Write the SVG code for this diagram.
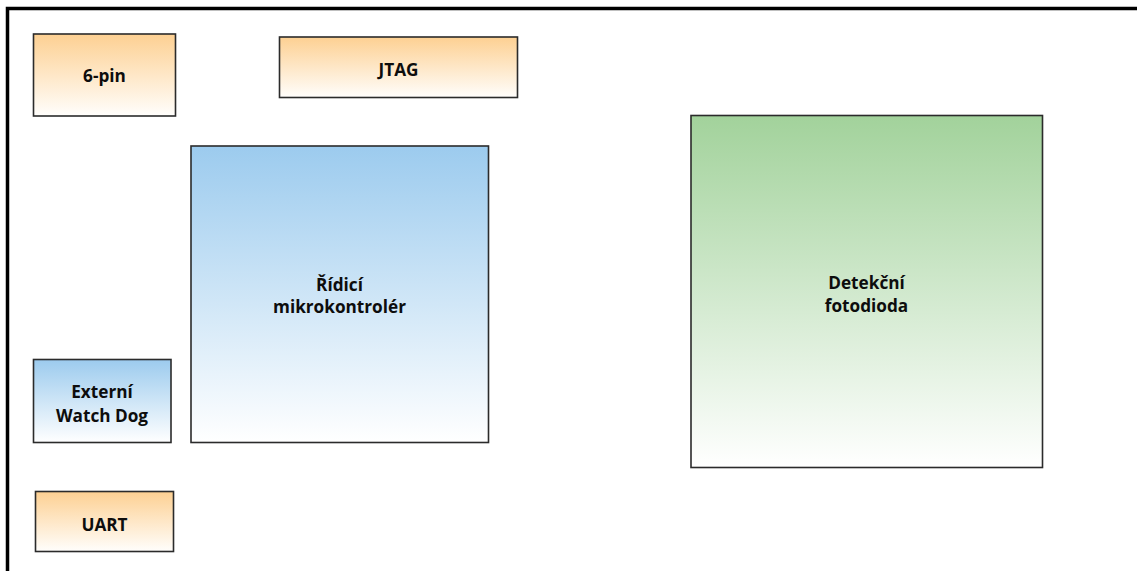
<svg xmlns="http://www.w3.org/2000/svg" width="1137" height="571" viewBox="0 0 1137 571">
  <defs>
    <linearGradient id="gOrange" x1="0" y1="0" x2="0" y2="1">
      <stop offset="0" stop-color="#fdd092"/>
      <stop offset="1" stop-color="#fffefc"/>
    </linearGradient>
    <linearGradient id="gBlue" x1="0" y1="0" x2="0" y2="1">
      <stop offset="0" stop-color="#9ccbee"/>
      <stop offset="1" stop-color="#ffffff"/>
    </linearGradient>
    <linearGradient id="gGreen" x1="0" y1="0" x2="0" y2="1">
      <stop offset="0" stop-color="#a2d29b"/>
      <stop offset="1" stop-color="#ffffff"/>
    </linearGradient>
    <style>
      .box { stroke: #2b2b2b; stroke-width: 1.6; }
      .orange { fill: url(#gOrange); }
      .blue { fill: url(#gBlue); }
      .green { fill: url(#gGreen); }
      .lbl { font-family: "Open Sans", "Noto Sans", "Liberation Sans", sans-serif; font-weight: bold; font-size: 17.2px; fill: #0d0d0d; text-anchor: middle; }
      .frame { stroke: #000; stroke-width: 3.5; fill: none; }
    </style>
  </defs>

  <rect width="1137" height="571" fill="#ffffff"/>

  <!-- outer frame: top and left edges -->
  <path class="frame" d="M7.5 571 V8.5 H1137"/>

  <g id="pin6">
    <rect class="box orange" x="33.5" y="34" width="142" height="82"/>
    <text class="lbl" x="104.5" y="82">6-pin</text>
  </g>

  <g id="jtag">
    <rect class="box orange" x="279.5" y="37" width="238" height="60.5"/>
    <text class="lbl" x="398.5" y="75.5">JTAG</text>
  </g>

  <g id="mcu">
    <rect class="box blue" x="191" y="146" width="297.5" height="296.5"/>
    <text class="lbl" x="339.5" y="290.5">Řídicí</text>
    <text class="lbl" x="339.5" y="313">mikrokontrolér</text>
  </g>

  <g id="watchdog">
    <rect class="box blue" x="33.5" y="359.5" width="137.5" height="83"/>
    <text class="lbl" x="102" y="397.5">Externí</text>
    <text class="lbl" x="102" y="421.5">Watch Dog</text>
  </g>

  <g id="uart">
    <rect class="box orange" x="35.5" y="491.5" width="138" height="60"/>
    <text class="lbl" x="104.5" y="530.5">UART</text>
  </g>

  <g id="photodiode">
    <rect class="box green" x="691" y="115.5" width="351.5" height="352"/>
    <text class="lbl" x="866.5" y="288.5">Detekční</text>
    <text class="lbl" x="866.5" y="312">fotodioda</text>
  </g>

  <g id="connectors"></g>
</svg>
